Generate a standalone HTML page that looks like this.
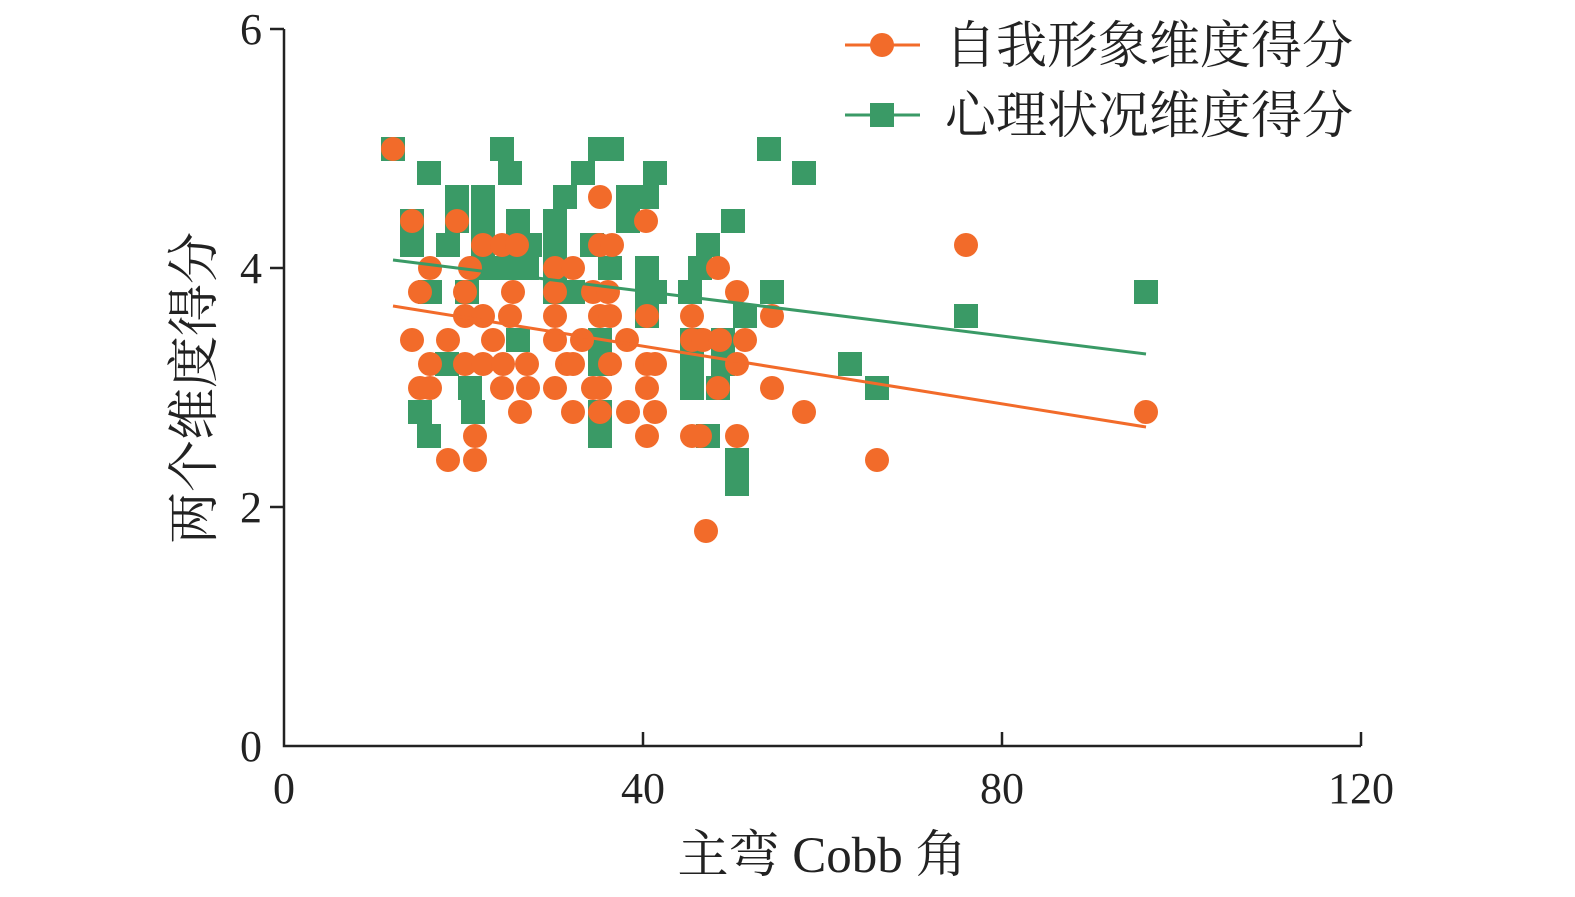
<!DOCTYPE html>
<html><head><meta charset="utf-8"><style>
body{margin:0;background:#fff}
text{font-family:"Liberation Serif","Noto Serif CJK SC",serif;fill:#222}
</style></head><body>
<svg width="1575" height="892" xmlns="http://www.w3.org/2000/svg">
<g stroke="#222" stroke-width="2.5" fill="none">
<path d="M284,29V746H1361"/>
<path d="M270,29H284M270,268H284M270,507H284M643,746V732M1002,746V732M1361,746V732"/>
</g>
<g font-size="44" text-anchor="end">
<text x="262" y="44">6</text><text x="262" y="283">4</text><text x="262" y="522">2</text><text x="262" y="761">0</text>
</g>
<g font-size="44" text-anchor="middle">
<text x="284" y="803">0</text><text x="643" y="803">40</text><text x="1002" y="803">80</text><text x="1361" y="803">120</text>
<text x="822" y="872" font-size="51">主弯 Cobb 角</text>
<text transform="translate(212,388) rotate(-90)" font-size="52">两个维度得分</text>
</g>
<g fill="#3a9a66" id="sq"></g>
<g fill="#f26b2a" id="ci"></g>
<line x1="393" y1="260" x2="1146" y2="354" stroke="#3a9a66" stroke-width="3"/>
<line x1="393" y1="306" x2="1146" y2="427" stroke="#f26b2a" stroke-width="3"/>
<line x1="845" y1="45" x2="920" y2="45" stroke="#f26b2a" stroke-width="3"/>
<circle cx="882" cy="45" r="12" fill="#f26b2a"/>
<line x1="845" y1="115" x2="920" y2="115" stroke="#3a9a66" stroke-width="3"/>
<rect x="870" y="103" width="24" height="24" fill="#3a9a66"/>
<g font-size="51"><text x="945" y="63">自我形象维度得分</text><text x="945" y="133">心理状况维度得分</text></g>
</svg>
<script>
var Y={5:149,4.8:173,4.6:197,4.4:221,4.2:245,4:268,3.8:292,3.6:316,3.4:340,3.2:364,3:388,2.8:412,2.6:436,2.4:460,2.2:484,1.8:531};
var G={5:[393,502,600,612,769],4.8:[429,510,583,655,804],4.6:[457,483,565,628,647],4.4:[412,457,483,518,555,628,733],4.2:[412,448,483,518,530,555,592,708],4:[482,503,527,555,610,647,700],3.8:[430,467,555,573,647,655,690,772,1146],3.6:[647,745,966],3.4:[518,600,692,723],3.2:[447,600,692,723,850],3:[470,692,718,877],2.8:[420,473,600],2.6:[429,600,708],2.4:[737],2.2:[737]};
var O={5:[393],4.6:[600],4.4:[412,457,646],4.2:[483,502,517,600,612,966],4:[430,470,555,573,718],3.8:[420,465,513,555,593,608,737],3.6:[465,483,510,555,600,610,647,692,772],3.4:[412,448,493,555,582,627,692,703,720,745],3.2:[430,465,483,503,527,567,573,610,647,655,737],3:[420,430,502,528,555,593,600,647,718,772],2.8:[520,573,600,628,655,804,1146],2.6:[475,647,692,700,737],2.4:[448,475,877],1.8:[706]};
var ns="http://www.w3.org/2000/svg",s=document.getElementById("sq"),c=document.getElementById("ci");
for(var k in G)G[k].forEach(function(x){var r=document.createElementNS(ns,"rect");r.setAttribute("x",x-12);r.setAttribute("y",Y[k]-12);r.setAttribute("width",24);r.setAttribute("height",24);s.appendChild(r);});
for(var k in O)O[k].forEach(function(x){var r=document.createElementNS(ns,"circle");r.setAttribute("cx",x);r.setAttribute("cy",Y[k]);r.setAttribute("r",12);c.appendChild(r);});
</script>
</body></html>
